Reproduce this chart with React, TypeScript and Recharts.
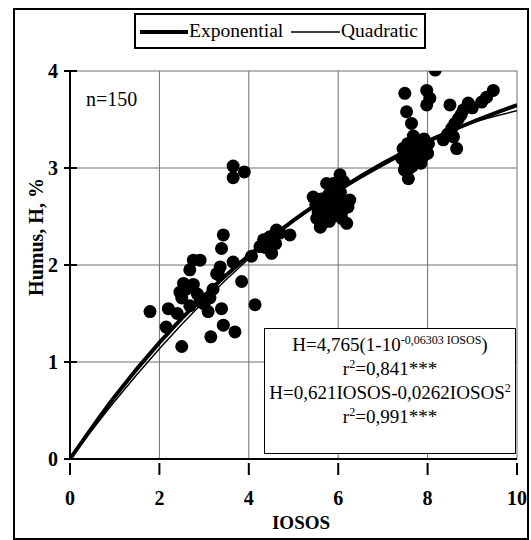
import React from 'react';
import { ComposedChart, Line, Scatter, XAxis, YAxis, CartesianGrid } from 'recharts';

const curveX = [0, 1, 2, 3, 4, 5, 6, 7, 8, 9, 10];
const expValues = [0, 0.643, 1.2, 1.682, 2.098, 2.459, 2.77, 3.04, 3.273, 3.474, 3.649];
const quadValues = [0, 0.595, 1.137, 1.627, 2.065, 2.45, 2.783, 3.063, 3.291, 3.467, 3.59];

const obsX = [
  1.79, 2.15, 2.2, 2.5, 2.46, 2.5, 2.54, 2.68, 2.76, 2.68, 2.76, 2.91, 2.91, 3.09, 3.13, 3.15, 3.28, 3.32, 3.36, 3.39,
  3.43, 3.39, 3.43, 3.65, 3.69, 3.84, 4.14, 3.65, 3.65, 3.9, 2.6, 2.85, 3.0, 3.2, 2.4,
  4.06, 4.25, 4.33, 4.4, 4.47, 4.51, 4.55, 4.62, 4.7, 4.92, 4.38, 4.45, 4.6,
  5.44, 5.5, 5.55, 5.59, 5.6, 5.65, 5.7, 5.74, 5.75, 5.8, 5.85, 5.89, 5.9, 5.95, 6.0, 6.04, 6.05, 6.1, 6.15, 6.19,
  6.22, 6.26, 5.52, 5.68, 5.78, 6.08, 5.98, 6.12, 5.62, 5.88,
  7.42, 7.45, 7.5, 7.52, 7.55, 7.57, 7.6, 7.62, 7.65, 7.68, 7.7, 7.72, 7.75, 7.78, 7.8, 7.85, 7.88, 7.9, 7.95, 8.0,
  8.02, 7.48, 7.58, 7.66, 7.82, 7.92,
  7.49, 7.53, 7.64, 7.98, 8.05, 7.98, 8.17, 8.5, 8.91, 9.21, 9.32, 9.47, 8.69, 8.61, 8.54, 8.35, 8.58, 8.65, 8.45,
  8.75, 8.8, 9.0
];
const obsY = [
  1.52, 1.36, 1.55, 1.16, 1.72, 1.66, 1.81, 1.58, 1.8, 1.95, 2.05, 2.05, 1.62, 1.52, 1.66, 1.26, 1.91, 1.9, 1.98, 1.55,
  1.38, 2.17, 2.31, 2.03, 1.31, 1.83, 1.59, 3.02, 2.9, 2.96, 1.75, 1.7, 1.6, 1.75, 1.5,
  2.09, 2.19, 2.26, 2.22, 2.29, 2.12, 2.3, 2.36, 2.33, 2.31, 2.18, 2.25, 2.22,
  2.7, 2.62, 2.55, 2.48, 2.39, 2.58, 2.66, 2.84, 2.5, 2.45, 2.6, 2.84, 2.7, 2.52, 2.62, 2.93, 2.75, 2.56, 2.65, 2.43,
  2.6, 2.67, 2.48, 2.44, 2.72, 2.48, 2.8, 2.86, 2.68, 2.5,
  3.1, 3.2, 3.05, 3.15, 3.25, 2.89, 3.0, 3.12, 3.2, 3.33, 3.05, 3.15, 3.25, 3.1, 3.18, 3.05, 3.22, 3.12, 3.2, 3.15,
  3.25, 2.98, 3.08, 3.02, 3.28, 3.3,
  3.77, 3.58, 3.46, 3.8, 3.72, 3.65, 4.01, 3.65, 3.67, 3.68, 3.73, 3.8, 3.51, 3.46, 3.41, 3.29, 3.32, 3.2, 3.35,
  3.55, 3.6, 3.62
];

const xTicks = [0, 2, 4, 6, 8, 10];
const yTicks = [0, 1, 2, 3, 4];

const curveData = curveX.map((x, i) => ({ x, exp: expValues[i], quad: quadValues[i] }));
const pointData = obsX.map((x, i) => ({ x, y: obsY[i] }));

const FONT = '"Liberation Serif", "Times New Roman", serif';

const XTick = (props: any) => {
  const { x, y, payload } = props;
  return (
    <g>
      <line x1={x} x2={x} y1={y - 4} y2={y + 8} stroke="#000" strokeWidth={2} />
      <text x={x} y={y + 38} textAnchor="middle" fontFamily={FONT} fontWeight="bold" fontSize={20} fill="#000">
        {payload.value}
      </text>
    </g>
  );
};

const YTick = (props: any) => {
  const { y, payload } = props;
  return (
    <g>
      <line x1={64} x2={77} y1={y} y2={y} stroke="#000" strokeWidth={2} />
      <text x={58} y={y + 7} textAnchor="end" fontFamily={FONT} fontWeight="bold" fontSize={20} fill="#000">
        {payload.value}
      </text>
    </g>
  );
};

const Dot = (props: any) => <circle cx={props.cx} cy={props.cy} r={6.5} fill="#000" />;

const supStyle = { fontSize: 12, verticalAlign: 'top', lineHeight: '14px' } as const;

export default function App() {
  return (
    <div style={{ position: 'fixed', left: 0, top: 0, width: 531, height: 540, background: '#fff', overflow: 'hidden' }}>
      <ComposedChart width={531} height={540} margin={{ top: 71, right: 14, bottom: 0, left: 0 }}>
        <CartesianGrid stroke="#707070" strokeWidth={1} />
        <XAxis
          type="number"
          dataKey="x"
          domain={[0, 10]}
          ticks={xTicks}
          allowDataOverflow
          height={81}
          axisLine={{ stroke: '#000', strokeWidth: 2 }}
          tickLine={false}
          tick={XTick}
          label={{
            content: () => (
              <text x={301} y={529} textAnchor="middle" fontFamily={FONT} fontWeight="bold" fontSize={19} fill="#000">
                IOSOS
              </text>
            ),
          }}
        />
        <YAxis
          type="number"
          domain={[0, 4]}
          ticks={yTicks}
          allowDataOverflow
          width={70}
          axisLine={{ stroke: '#000', strokeWidth: 2 }}
          tickLine={false}
          tick={YTick}
          label={{
            content: () => (
              <text
                x={36}
                y={237}
                transform="rotate(-90 36 237)"
                textAnchor="middle"
                dominantBaseline="central"
                fontFamily={FONT}
                fontWeight="bold"
                fontSize={20}
                fill="#000"
              >
                Humus, H, %
              </text>
            ),
          }}
        />
        <Scatter data={pointData} dataKey="y" shape={Dot} isAnimationActive={false} />
        <Line data={curveData} dataKey="exp" type="monotone" stroke="#000" strokeWidth={4} dot={false} isAnimationActive={false} />
        <Line data={curveData} dataKey="quad" type="monotone" stroke="#000" strokeWidth={1.5} dot={false} isAnimationActive={false} />
      </ComposedChart>

      <div style={{ position: 'absolute', left: 13, top: 8, width: 516, height: 532, border: '2px solid #000', boxSizing: 'border-box', pointerEvents: 'none' }} />

      <div
        style={{
          position: 'absolute', left: 134, top: 13, width: 292, height: 36, border: '2px solid #000', boxSizing: 'border-box',
          background: '#fff', fontFamily: FONT, fontSize: 19.5, color: '#000',
        }}
      >
        <svg style={{ position: 'absolute', left: 4, top: 14 }} width={48} height={6}>
          <line x1={0} x2={48} y1={3} y2={3} stroke="#000" strokeWidth={4} />
        </svg>
        <span style={{ position: 'absolute', left: 53, top: 5, lineHeight: '22px' }}>Exponential</span>
        <svg style={{ position: 'absolute', left: 155, top: 14 }} width={49} height={6}>
          <line x1={0} x2={49} y1={3} y2={3} stroke="#000" strokeWidth={1.5} />
        </svg>
        <span style={{ position: 'absolute', left: 205, top: 5, lineHeight: '22px' }}>Quadratic</span>
      </div>

      <div style={{ position: 'absolute', left: 86, top: 87, fontFamily: FONT, fontSize: 20, lineHeight: '24px', color: '#000' }}>
        n=150
      </div>

      <div
        style={{
          position: 'absolute', left: 264, top: 328, width: 252, height: 126, border: '1px solid #000', boxSizing: 'border-box',
          background: '#fff', fontFamily: FONT, fontSize: 19, lineHeight: '24px', color: '#000', textAlign: 'center',
          paddingTop: 4, whiteSpace: 'nowrap',
        }}
      >
        <div>
          H=4,765(1-10<sup style={supStyle}>-0,06303 IOSOS</sup>)
        </div>
        <div>
          r<sup style={supStyle}>2</sup>=0,841***
        </div>
        <div>
          H=0,621IOSOS-0,0262IOSOS<sup style={supStyle}>2</sup>
        </div>
        <div>
          r<sup style={supStyle}>2</sup>=0,991***
        </div>
      </div>
    </div>
  );
}
